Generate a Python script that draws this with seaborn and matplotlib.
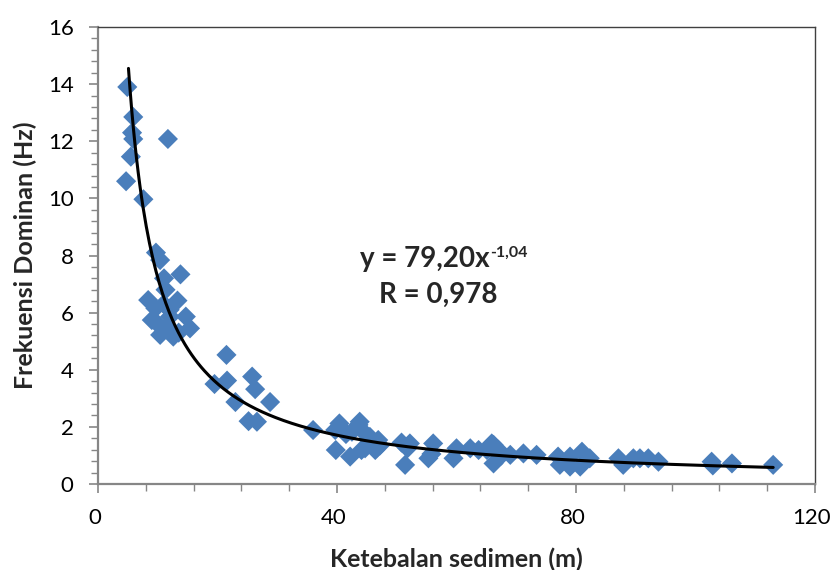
import numpy as np
import pandas as pd
import matplotlib
matplotlib.use("Agg")
import matplotlib.pyplot as plt
import matplotlib.transforms as mtransforms
import seaborn as sns
from matplotlib.ticker import MultipleLocator

# ---- data ----
thickness_m = [
    4.9, 5.9, 5.7, 5.9, 11.7, 5.5, 4.7, 7.6,
    9.7, 10.4, 11.05, 13.8, 11.3, 8.4, 13.3, 9.6, 12.0, 14.7, 9.0, 12.05,
    11.5, 15.4, 10.4, 12.6, 10.0, 13.5, 11.0,
    21.5, 19.5, 21.6, 25.8, 26.3, 23.0, 28.8, 25.2, 26.6,
    36.0, 39.7, 40.4, 40.5, 41.5, 42.5, 43.6, 43.8, 44.7, 45.5, 46.9,
    39.8, 42.2, 44.1, 44.7, 46.4, 46.6, 47.2,
    50.8, 52.2, 51.4, 51.8, 56.1, 55.3, 55.8, 60.0, 59.5, 62.3, 63.7, 65.1,
    65.9, 66.2, 66.2, 67.0, 67.5, 69.0, 71.2, 73.4, 77.0, 77.3, 79.0, 79.0,
    81.0, 80.7, 82.3, 87.1, 87.9, 89.6, 90.7, 92.1, 93.8, 102.7, 102.9,
    106.1, 113.0,
]
freq_hz = [
    13.9, 12.85, 12.3, 12.08, 12.08, 11.46, 10.6, 9.97,
    8.1, 7.84, 7.2, 7.34, 6.8, 6.44, 6.42, 6.15, 6.1, 5.86, 5.74, 5.86,
    5.5, 5.45, 5.22, 5.16, 5.6, 5.3, 6.3,
    4.52, 3.5, 3.62, 3.76, 3.32, 2.87, 2.87, 2.2, 2.18,
    1.89, 1.89, 2.12, 2.0, 1.75, 1.83, 2.07, 2.18, 1.77, 1.65, 1.54,
    1.19, 0.96, 1.19, 1.25, 1.19, 1.25, 1.35,
    1.45, 1.42, 0.67, 1.25, 1.42, 0.9, 1.05, 1.25, 0.9, 1.25, 1.19, 1.19,
    1.42, 1.37, 0.72, 1.2, 1.0, 1.02, 1.07, 1.02, 0.96, 0.67, 0.96, 0.61,
    1.13, 0.61, 0.9, 0.9, 0.67, 0.9, 0.9, 0.9, 0.78, 0.78, 0.65,
    0.72, 0.67,
]
fit_a = 79.20
fit_b = -1.04
fit_range = [5.1, 113.0]
x_ticks = [0, 40, 80, 120]
y_ticks = [0, 2, 4, 6, 8, 10, 12, 14, 16]

df = pd.DataFrame({"x": thickness_m, "y": freq_hz})
xf = np.linspace(fit_range[0], fit_range[1], 400)
fit_df = pd.DataFrame({"x": xf, "y": fit_a * xf ** fit_b})

sns.set_style("white")
plt.rcParams["font.family"] = ["Lato", "DejaVu Sans"]

fig = plt.figure(figsize=(8.33, 5.70), dpi=100)
ax = fig.add_axes([98 / 833, 1 - 484 / 570, (815 - 98) / 833, (484 - 27) / 570])

sns.scatterplot(data=df, x="x", y="y", marker="D", s=105, color="#4A7EBB",
                edgecolor="none", linewidth=0, ax=ax, zorder=2)
sns.lineplot(data=fit_df, x="x", y="y", color="black", linewidth=2.2, ax=ax,
             zorder=3)

ax.set_xlim(0, 120)
ax.set_ylim(0, 16)
ax.set_xticks(x_ticks)
ax.set_yticks(y_ticks)
ax.xaxis.set_minor_locator(MultipleLocator(8))
ax.yaxis.set_minor_locator(MultipleLocator(0.4))
ax.tick_params(axis="both", which="major", direction="out", length=6.5,
               width=1.2, color="#868686", labelsize=16, labelcolor="black",
               pad=11)
ax.tick_params(axis="both", which="minor", direction="out", length=5,
               width=1.0, color="#868686")
ax.tick_params(axis="x", which="both", bottom=True)
ax.tick_params(axis="y", which="both", left=True)

shift = mtransforms.ScaledTranslation(-3 / 100, 0, fig.dpi_scale_trans)
for lab in ax.get_xticklabels():
    lab.set_transform(lab.get_transform() + shift)

for side in ["left", "bottom"]:
    ax.spines[side].set_color("#868686")
    ax.spines[side].set_linewidth(1.6)
for side in ["top", "right"]:
    ax.spines[side].set_color("#404040")
    ax.spines[side].set_linewidth(1.0)

ax.set_xlabel("Ketebalan sedimen (m)", fontsize=18, fontweight="bold",
              labelpad=14)
ax.set_ylabel("Frekuensi Dominan (Hz)", fontsize=18, fontweight="bold",
              labelpad=8)

# equation annotation
fig.text(490 / 833, 1 - 267 / 570, "y = 79,20x", ha="right", va="baseline",
         fontsize=20, fontweight="bold")
fig.text(490 / 833, 1 - 257 / 570, "-1,04", ha="left", va="baseline",
         fontsize=11.5, fontweight="bold")
fig.text(438 / 833, 1 - 303 / 570, "R = 0,978", ha="center", va="baseline",
         fontsize=20, fontweight="bold")

fig.savefig("out.png", dpi=100)
